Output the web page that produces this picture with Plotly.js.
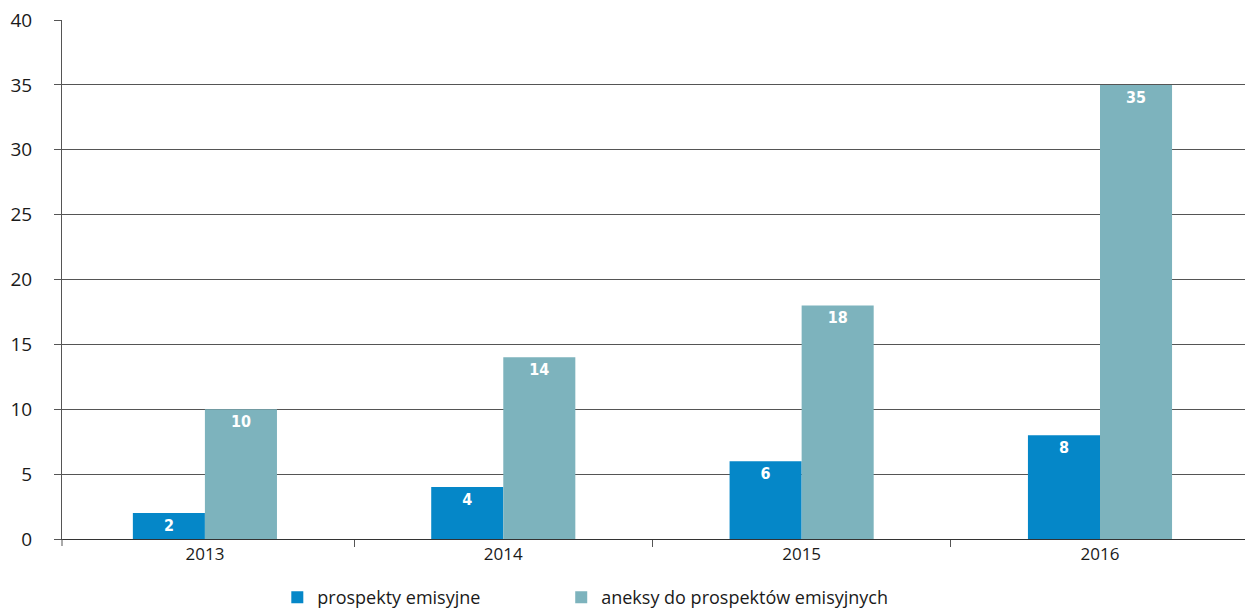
<!DOCTYPE html>
<html>
<head>
<meta charset="utf-8">
<script src="https://cdn.plot.ly/plotly-3.0.1.min.js"></script>
<style>html,body{margin:0;padding:0;background:#fff}#chart{width:1249px;height:612px}</style>
</head>
<body>
<div id="chart"></div>
<script>
const years = ['2013', '2014', '2015', '2016'];
const prospekty = [2, 4, 6, 8];
const aneksy = [10, 14, 18, 35];
const seriesNames = ['prospekty emisyjne', 'aneksy do prospektów emisyjnych'];
const yTicks = [0, 5, 10, 15, 20, 25, 30, 35, 40];

const labelFont = {family: 'DejaVu Sans Condensed, Liberation Sans, Arial, sans-serif', size: 16, color: '#ffffff', weight: 'bold'};

const traces = [
  {type: 'bar', x: years, y: prospekty, name: seriesNames[0], marker: {color: '#0587c8'},
   text: prospekty.map(String), textposition: 'inside', insidetextanchor: 'end', textangle: 0,
   insidetextfont: labelFont, hoverinfo: 'x+y', legend: 'legend'},
  {type: 'bar', x: years, y: aneksy, name: seriesNames[1], marker: {color: '#7db3bd'},
   text: aneksy.map(String), textposition: 'inside', insidetextanchor: 'end', textangle: 0,
   insidetextfont: labelFont, hoverinfo: 'x+y', legend: 'legend2'}
];

const legendBase = {orientation: 'h', xanchor: 'left', yref: 'container', y: 0.054, yanchor: 'top',
                    font: {size: 18, family: 'Open Sans, sans-serif', color: '#1a1a1a'},
                    itemwidth: 30, bgcolor: 'rgba(0,0,0,0)'};

const layout = {
  width: 1249, height: 612,
  margin: {l: 62, r: 4, t: 20, b: 73, autoexpand: false},
  paper_bgcolor: '#ffffff', plot_bgcolor: '#ffffff',
  barmode: 'group', bargap: 0.517, bargroupgap: 0,
  font: {family: 'Open Sans, sans-serif', color: '#1a1a1a'},
  showlegend: true,
  legend: Object.assign({}, legendBase, {x: 0.182}),
  legend2: Object.assign({}, legendBase, {x: 0.422}),
  xaxis: {type: 'category', range: [-0.479, 3.486], showline: true, linecolor: '#333', linewidth: 1,
          ticks: 'outside', tickson: 'boundaries', ticklen: 7, tickcolor: '#555',
          tickfont: {size: 17, color: '#1a1a1a'}, showgrid: false, zeroline: false},
  yaxis: {range: [0, 40], tickvals: yTicks, showline: true, linecolor: '#555', linewidth: 1,
          ticks: 'outside', ticklen: 7, tickcolor: '#555', ticklabelstandoff: 18,
          tickfont: {size: 19, color: '#1a1a1a'}, showgrid: true, gridcolor: '#555', gridwidth: 1,
          zeroline: false},
  shapes: [{type: 'line', xref: 'paper', yref: 'paper', x0: 0, x1: 0, y0: 0, y1: -0.0135,
            line: {color: '#555', width: 1}}]
};

Plotly.newPlot('chart', traces, layout, {displayModeBar: false, staticPlot: true});
</script>
</body>
</html>
